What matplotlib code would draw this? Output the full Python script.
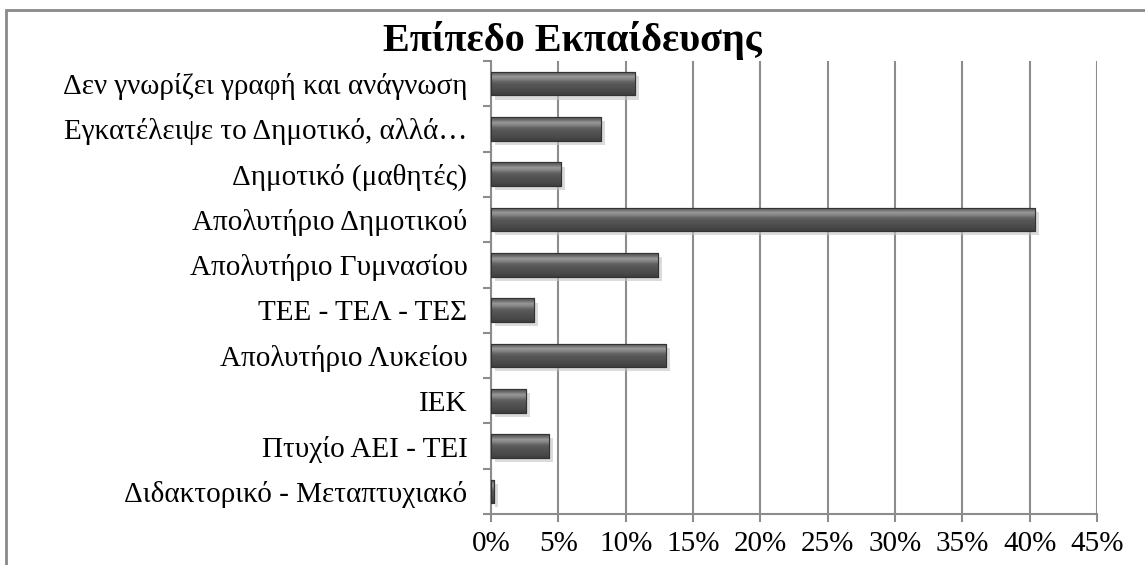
import numpy as np
import matplotlib.pyplot as plt
from matplotlib.patches import Rectangle
from matplotlib.ticker import FixedLocator, PercentFormatter
import matplotlib.patheffects as pe

plt.rcParams['font.family'] = ['Liberation Serif', 'DejaVu Serif']

categories = [
    'Δεν γνωρίζει γραφή και ανάγνωση',
    'Εγκατέλειψε το Δημοτικό, αλλά…',
    'Δημοτικό (μαθητές)',
    'Απολυτήριο Δημοτικού',
    'Απολυτήριο Γυμνασίου',
    'ΤΕΕ - ΤΕΛ - ΤΕΣ',
    'Απολυτήριο Λυκείου',
    'ΙΕΚ',
    'Πτυχίο ΑΕΙ - ΤΕΙ',
    'Διδακτορικό - Μεταπτυχιακό',
]
values = [10.7, 8.15, 5.2, 40.4, 12.4, 3.2, 13.0, 2.6, 4.3, 0.2]
x_ticks = [0, 5, 10, 15, 20, 25, 30, 35, 40, 45]

fig = plt.figure(figsize=(11.45, 5.65), dpi=100)
ax = fig.add_axes([491 / 1145, 1 - 514 / 565, (1097 - 491) / 1145, (514 - 61) / 565])

# outer chart frame
fig.patches.append(Rectangle((6 / 1145, -0.05), 1.2, 1 - 10 / 565 + 0.05,
                             transform=fig.transFigure, fill=False,
                             edgecolor='#8a8a8a', linewidth=2, zorder=0))

y = np.arange(len(categories))
bar_h = 0.52
bars = ax.barh(y, values, height=bar_h, color='#505050', edgecolor='#333333',
               linewidth=0.8, zorder=3)

# cylinder-ish shading and soft shadow
grad = np.array([0.33, 0.42, 0.60, 0.52, 0.39, 0.34, 0.32, 0.30, 0.28, 0.24])
grad = np.interp(np.linspace(0, 9, 60), np.arange(10), grad)[:, None]
for b, v, yy in zip(bars, values, y):
    b.set_path_effects([pe.SimplePatchShadow(offset=(3, -3), shadow_rgbFace='#c4c4c4', alpha=0.6),
                        pe.Normal()])
    im = ax.imshow(grad, cmap='gray', vmin=0, vmax=1, aspect='auto',
                   extent=(0, v, yy + bar_h / 2, yy - bar_h / 2),
                   zorder=4, interpolation='bilinear')
    im.set_clip_path(b)
    ax.add_patch(Rectangle((0, yy - bar_h / 2), v, bar_h, fill=False,
                           edgecolor='#333333', linewidth=0.8, zorder=5))

ax.set_xlim(0, 45)
ax.set_ylim(len(categories) - 0.5, -0.5)
ax.set_xticks(x_ticks)
ax.xaxis.set_major_formatter(PercentFormatter(decimals=0))
ax.set_yticks(y)
ax.set_yticklabels(categories)
ax.yaxis.set_minor_locator(FixedLocator(np.arange(-0.5, len(categories), 1)))

ax.grid(axis='x', color='#8c8c8c', linewidth=1.5, zorder=0)
ax.set_axisbelow(True)
for s in ['top', 'right']:
    ax.spines[s].set_visible(False)
for s in ['left', 'bottom']:
    ax.spines[s].set_color('#8c8c8c')
    ax.spines[s].set_linewidth(1.5)

ax.tick_params(axis='y', which='major', length=0, pad=17, labelsize=21)
ax.tick_params(axis='y', which='minor', length=6, width=1.5, color='#8c8c8c')
ax.tick_params(axis='x', length=6, width=1.5, color='#8c8c8c', labelsize=21, pad=6)

fig.text(0.5, 1 - 41 / 565, 'Επίπεδο Εκπαίδευσης', ha='center', va='center',
         fontsize=29, fontweight='bold')

fig.savefig('out.png', dpi=100)
